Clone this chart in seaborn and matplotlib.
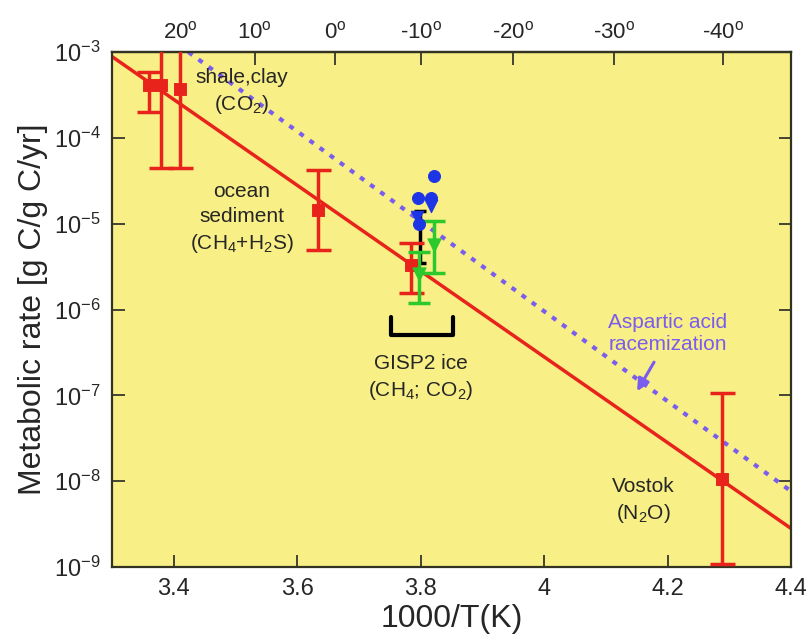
import numpy as np
import pandas as pd
import matplotlib
matplotlib.use('Agg')
import matplotlib.pyplot as plt
import seaborn as sns

# fit lines (end points)
fit_x = [3.3, 4.4]
fit_y = [8.9e-4, 2.8e-9]
asp_x = [3.424, 4.4]
asp_y = [1.0e-3, 7.6e-9]

# red squares with error bars
red_x = [3.36, 3.38, 3.41, 3.634, 3.785, 4.287]
red_y = [4.1e-4, 4.1e-4, 3.7e-4, 1.45e-5, 3.3e-6, 1.05e-8]
red_lo = [2.0e-4, 4.5e-5, 4.5e-5, 4.9e-6, 1.55e-6, 1.1e-9]
red_hi = [5.8e-4, 3e-3, 3e-3, 4.2e-5, 6.0e-6, 1.07e-7]

# green triangles (GISP2)
green_x = [3.798, 3.821]
green_y = [2.6e-6, 5.7e-6]
green_lo = [1.2e-6, 2.7e-6]
green_hi = [4.7e-6, 1.07e-5]

# blue points (GISP2)
blue_x = [3.821, 3.795, 3.816, 3.798]
blue_y = [3.6e-5, 2.0e-5, 2.0e-5, 1.0e-5]
blue_tri_x = [3.794, 3.816]
blue_tri_y = [1.2e-5, 1.6e-5]

# black bar (GISP2)
black_x = [3.799]
black_y = [7.0e-6]
black_lo = [3.5e-6]
black_hi = [1.4e-5]

# top axis temperatures (C)
temps = [20, 10, 0, -10, -20, -30, -40]

sns.set_style('ticks')
plt.rcParams['font.family'] = ['Liberation Sans', 'DejaVu Sans']
plt.rcParams['mathtext.fontset'] = 'custom'
plt.rcParams['mathtext.rm'] = 'Liberation Sans'
plt.rcParams['mathtext.it'] = 'Liberation Sans'

fig = plt.figure(figsize=(8.1, 6.35), dpi=100)
ax = fig.add_axes([0.138, 0.107, 0.839, 0.811])
ax.set_facecolor('#F8EF86')
ax.set_yscale('log')

red = '#E8231C'
purple = '#7A5CEE'
green = '#2BC92B'
blue = '#1E35E6'

sns.lineplot(x=fit_x, y=fit_y, ax=ax, color=red, lw=2.5)
ax.plot(asp_x, asp_y, color=purple, lw=3, ls=(0, (1.2, 1.8)))

# error bars
ry = np.array(red_y)
ax.errorbar(red_x, red_y, yerr=[ry - np.array(red_lo), np.array(red_hi) - ry],
            fmt='none', ecolor=red, elinewidth=2.5, capsize=9, capthick=2.5, zorder=3)
gy = np.array(green_y)
ax.errorbar(green_x, green_y, yerr=[gy - np.array(green_lo), np.array(green_hi) - gy],
            fmt='none', ecolor=green, elinewidth=2.5, capsize=8, capthick=2.5, zorder=3)
by = np.array(black_y)
ax.errorbar(black_x, black_y, yerr=[by - np.array(black_lo), np.array(black_hi) - by],
            fmt='none', ecolor='black', elinewidth=2.5, capsize=4, capthick=2.5, zorder=2)

sns.scatterplot(x=red_x, y=red_y, ax=ax, marker='s', s=70, color=red, edgecolor=red, zorder=4)
sns.scatterplot(x=green_x, y=green_y, ax=ax, marker='v', s=90, color=green, edgecolor=green, zorder=4)
sns.scatterplot(x=blue_x, y=blue_y, ax=ax, marker='o', s=75, color=blue, edgecolor=blue, zorder=5)
sns.scatterplot(x=blue_tri_x, y=blue_tri_y, ax=ax, marker='v', s=80, color=blue, edgecolor=blue, zorder=5)

# GISP2 bracket
ax.plot([3.752, 3.752, 3.853, 3.853], [8.3e-7, 5.1e-7, 5.1e-7, 8.3e-7], color='black', lw=3)

ax.set_xlim(3.3, 4.4)
ax.set_ylim(1e-9, 1e-3)
ax.set_xticks([3.4, 3.6, 3.8, 4.0, 4.2, 4.4])
ax.set_xticklabels(['3.4', '3.6', '3.8', '4', '4.2', '4.4'])
ax.minorticks_off()
ax.tick_params(direction='in', length=9, width=1.2, labelsize=17, top=False, right=True, pad=8)
for s in ax.spines.values():
    s.set_linewidth(1.6)
    s.set_color('#333322')
ax.set_xlabel('1000/T(K)', fontsize=23, labelpad=3)
ax.set_ylabel('Metabolic rate [g C/g C/yr]', fontsize=23, labelpad=4)

# top temperature axis (deg C)
top = ax.secondary_xaxis('top', functions=(lambda x: 1000 / x - 273.15,
                                           lambda t: 1000 / (t + 273.15)))
top.set_xticks(temps)
top.set_xticklabels([f'{t}$^o$' for t in temps])
top.tick_params(direction='in', length=9, width=1.2, labelsize=16, pad=6)
top.minorticks_off()
top.spines['top'].set_linewidth(1.6)

# annotations
fs = 15
ax.text(3.51, 3.4e-4, 'shale,clay\n(CO$_2$)', ha='center', va='center', fontsize=fs, linespacing=1.35)
ax.text(3.51, 1.15e-5, 'ocean\nsediment\n(CH$_4$+H$_2$S)', ha='center', va='center', fontsize=fs, linespacing=1.35)
ax.text(3.80, 1.6e-7, 'GISP2 ice\n(CH$_4$; CO$_2$)', ha='center', va='center', fontsize=fs, linespacing=1.35)
ax.text(4.2, 5.3e-7, 'Aspartic acid\nracemization', ha='center', va='center', fontsize=fs,
        color=purple, linespacing=1.2)
ax.annotate('', xy=(4.148, 1.05e-7), xytext=(4.18, 2.6e-7),
            arrowprops=dict(arrowstyle='-|>', color=purple, lw=2.2, mutation_scale=18))
ax.text(4.16, 5.9e-9, 'Vostok\n(N$_2$O)', ha='center', va='center', fontsize=fs, linespacing=1.35)

fig.savefig('out.png', dpi=100)
